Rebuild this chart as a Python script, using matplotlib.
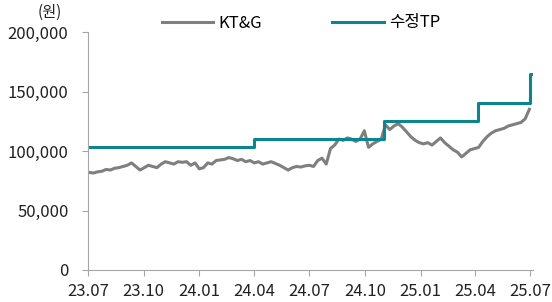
import matplotlib
matplotlib.use('Agg')
import matplotlib.pyplot as plt
import matplotlib.dates as mdates
import matplotlib.ticker as mticker
import pandas as pd

plt.rcParams['font.family'] = ['Noto Sans CJK KR', 'DejaVu Sans']

# KT&G weekly close (won)
price_dates = pd.date_range('2023-07-03', '2025-06-30', freq='7D')
price_values = [
    82000, 81500, 82500, 83000, 84500, 84000, 85500, 86000, 87000, 88000,
    90000, 87000, 84000, 86000, 88000, 87000, 86000, 89000, 91000, 90000,
    89000, 91000, 90500, 91000, 88000, 90000, 85000, 86000, 90000, 89000,
    92000, 92500, 93000, 94500, 93500, 92000, 93000, 91000, 92000, 90000,
    91000, 89000, 90000, 91000, 89500, 88000, 86000, 84000, 86000, 87000,
    86500, 87500, 88000, 87000, 92000, 94000, 89000, 102000, 105000, 110000,
    109000, 111000, 110000, 108000, 110000, 117000, 103000, 106000, 108000, 110000,
    122000, 118000, 121000, 123000, 120000, 116000, 112000, 109000, 107000, 106000,
    107000, 105000, 108000, 111000, 107000, 104000, 101000, 99000, 95000, 98000,
    101000, 102000, 103000, 108000, 112000, 115000, 117000, 118000, 119000, 121000,
    122000, 123000, 124000, 127000, 135000,
]

# revised target price steps
tp_dates = pd.to_datetime(['2023-07-01', '2024-04-01', '2024-11-01',
                           '2025-04-06', '2025-07-01', '2025-07-06'])
tp_values = [103000, 110000, 125000, 140000, 165000, 165000]

tick_dates = pd.date_range('2023-07-01', '2025-07-01', freq='3MS')
tick_labels = [d.strftime('%y.%m') for d in tick_dates]

fig = plt.figure(figsize=(5.52, 3.02), dpi=100)
ax = fig.add_axes([88 / 552, 1 - 270 / 302, 445 / 552, 238 / 302])

ax.plot(price_dates, price_values, color='#7f7f7f', lw=2.2, label='KT&G')
ax.plot(tp_dates, tp_values, color='#0f8490', lw=2.2, drawstyle='steps-post',
        label='수정TP')

ax.set_xlim(pd.Timestamp('2023-07-01'), pd.Timestamp('2025-07-06'))
ax.set_ylim(0, 200000)
ax.set_xticks(tick_dates)
ax.set_xticklabels(tick_labels)
ax.set_yticks(range(0, 200001, 50000))
ax.yaxis.set_major_formatter(mticker.FuncFormatter(lambda v, p: f'{int(v):,}'))

for side in ['top', 'right']:
    ax.spines[side].set_visible(False)
for side in ['left', 'bottom']:
    ax.spines[side].set_color('#a6a6a6')
ax.tick_params(colors='#a6a6a6', length=4, labelsize=12, labelcolor='#222222')
ax.tick_params(axis='y', pad=10)
ax.tick_params(axis='x', pad=5)

fig.text(50 / 552, 1 - 12 / 302, '(원)', fontsize=11, ha='center', va='center',
         color='#222222')

fig.legend(loc='center', bbox_to_anchor=(0.545, 1 - 23 / 302), ncol=2,
           frameon=False, fontsize=12, handlelength=3.1, handletextpad=0.3,
           columnspacing=4.2)

fig.savefig('out.png', dpi=100)
